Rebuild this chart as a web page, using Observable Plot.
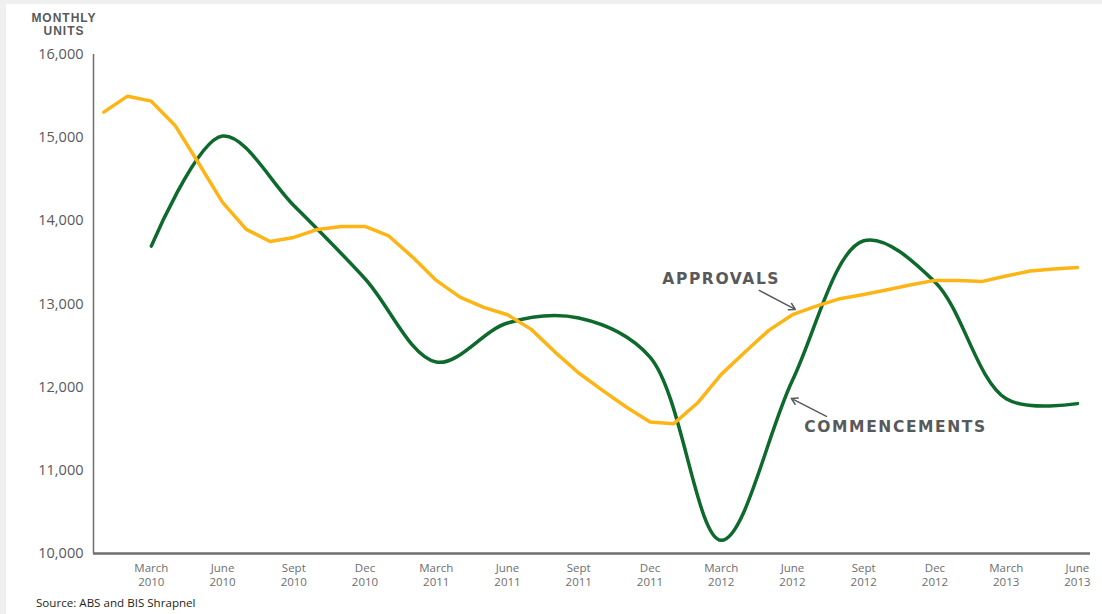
<!DOCTYPE html>
<html>
<head>
<meta charset="utf-8">
<script src="https://cdn.jsdelivr.net/npm/d3@7"></script>
<script src="https://cdn.jsdelivr.net/npm/@observablehq/plot@0.6"></script>
<style>
  html, body { margin: 0; padding: 0; background: #f0f0f0; width: 1102px; height: 614px; overflow: hidden; }
  #panel { position: absolute; left: 6px; top: 4px; width: 1096px; height: 610px; background: #fff; }
  #title { position: absolute; left: 24px; top: 12px; width: 80px; text-align: center;
           font: bold 12px "Liberation Sans", Arial, sans-serif; letter-spacing: 1px;
           line-height: 13px; color: #58595b; }
  #chart { position: absolute; left: 0; top: 40px; }
  #source { position: absolute; left: 36px; top: 595px; font: 11.6px "Open Sans", sans-serif; color: #231f20; }
</style>
</head>
<body>
<div id="panel"></div>
<div id="title">MONTHLY<br>UNITS</div>
<div id="chart"></div>
<div id="source">Source: ABS and BIS Shrapnel</div>
<script>
// Months indexed from Jan 2010 (0) to Jun 2013 (41)
const approvalMonths = d3.range(0, 42);
const approvals = [
  15307, 15499, 15439, 15147, 14690, 14221, 13897, 13752, 13800, 13897, 13933, 13933,
  13818, 13564, 13284, 13083, 12959, 12871, 12695, 12422, 12170, 11962, 11761, 11581,
  11561, 11809, 12154, 12422, 12683, 12871, 12975, 13064, 13115, 13172, 13232, 13284,
  13284, 13272, 13336, 13396, 13420, 13440
];
// Quarterly commencements (March 2010 .. June 2013)
const commencementMonths = [2, 5, 8, 11, 14, 17, 20, 23, 26, 29, 32, 35, 38, 41];
const commencements = [
  13696, 15020, 14185, 13304, 12302, 12771, 12831, 12362, 10159, 12082, 13760, 13264, 11860, 11802
];
const tickMonths = commencementMonths;
const tickLabels = [
  "March\n2010", "June\n2010", "Sept\n2010", "Dec\n2010",
  "March\n2011", "June\n2011", "Sept\n2011", "Dec\n2011",
  "March\n2012", "June\n2012", "Sept\n2012", "Dec\n2012",
  "March\n2013", "June\n2013"
];
const yTicks = [10000, 11000, 12000, 13000, 14000, 15000, 16000];

const approvalData = approvalMonths.map((m, i) => ({m, v: approvals[i]}));
const commData = commencementMonths.map((m, i) => ({m, v: commencements[i]}));
const labelOf = new Map(tickMonths.map((m, i) => [m, tickLabels[i]]));

const xDomain = [-0.434, 41.55];
const yDomain = [10000, 16000];
const grey = "#58595b";
const annotFont = "'DejaVu Sans', 'Liberation Sans', Arial, sans-serif";

const chart = Plot.plot({
  width: 1102,
  height: 556,
  marginTop: 14,
  marginBottom: 43,
  marginLeft: 93,
  marginRight: 12,
  x: {domain: xDomain, label: null},
  y: {domain: yDomain, label: null},
  style: {background: "transparent", fontFamily: "'Open Sans', sans-serif", color: grey, overflow: "visible"},
  marks: [
    Plot.axisY({ticks: yTicks, tickFormat: d3.format(","), tickSize: 0, tickPadding: 10,
                fontSize: 14.5, fill: grey, label: null}),
    Plot.axisX({ticks: tickMonths, tickFormat: d => labelOf.get(d), tickSize: 0, tickPadding: 9,
                fontSize: 11.5, lineHeight: 1.22, fill: "#6d6e71", label: null}),
    Plot.ruleX([xDomain[0]], {y1: yDomain[0], y2: yDomain[1], stroke: "#6d6e71", strokeWidth: 1.5}),
    Plot.ruleY([yDomain[0]], {stroke: "#6d6e71", strokeWidth: 2.5}),
    Plot.line(commData, {x: "m", y: "v", stroke: "#0d6a2c", strokeWidth: 3.5, curve: "catmull-rom"}),
    Plot.line(approvalData, {x: "m", y: "v", stroke: "#fdb515", strokeWidth: 3.5, curve: "linear", strokeLinejoin: "round"}),
    Plot.text(["APPROVALS"], {x: 23.52, y: 13296, text: d => d, textAnchor: "start",
              fontSize: 15.5, fontWeight: "bold", fill: grey, fontFamily: annotFont}),
    Plot.text(["COMMENCEMENTS"], {x: 29.5, y: 11517, text: d => d, textAnchor: "start",
              fontSize: 15.5, fontWeight: "bold", fill: grey, fontFamily: annotFont}),
    Plot.arrow([0], {x1: 27.6, y1: 13163, x2: 29.12, y2: 12935, stroke: grey, strokeWidth: 1.5, headLength: 7}),
    Plot.arrow([0], {x1: 30.43, y1: 11649, x2: 28.95, y2: 11865, stroke: grey, strokeWidth: 1.5, headLength: 7})
  ]
});
document.getElementById("chart").appendChild(chart);
d3.select(chart).selectAll("text")
  .filter(function() { return this.textContent === "APPROVALS" || this.textContent === "COMMENCEMENTS"; })
  .style("letter-spacing", "1.6px");
</script>
</body>
</html>
